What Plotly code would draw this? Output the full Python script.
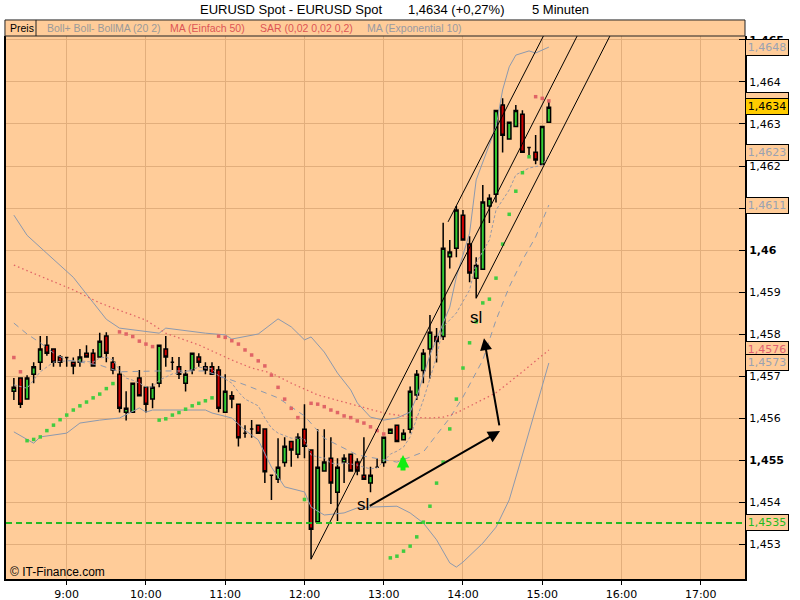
import plotly.graph_objects as go
from datetime import datetime, timedelta

DAY = datetime(2008, 1, 21)


def T(h, m=0.0):
    return DAY + timedelta(hours=h, minutes=m)


START = T(8, 20)
N = 82
times = [START + timedelta(minutes=5 * i) for i in range(N)]

opens = [1.45664, 1.45695, 1.45645, 1.45704, 1.45733, 1.45773, 1.45764, 1.45745, 1.45744, 1.45733,
         1.45733, 1.45754, 1.45754, 1.45745, 1.45795, 1.45733, 1.45704, 1.45614, 1.45614, 1.45695,
         1.45673, 1.45645, 1.45683, 1.45764, 1.45733, 1.45722, 1.45683, 1.45714, 1.45745, 1.45722,
         1.45722, 1.45714, 1.45614, 1.45653, 1.45633, 1.45564, 1.45574, 1.45583, 1.45574, 1.45464,
         1.45454, 1.45494, 1.45544, 1.45514, 1.45573, 1.45524, 1.45353, 1.45474, 1.45504, 1.45423,
         1.45495, 1.45514, 1.45495, 1.45464, 1.45445, 1.45483, 1.45494, 1.45564, 1.45583, 1.45548,
         1.45573, 1.45655, 1.45713, 1.45764, 1.45794, 1.45794, 1.45984, 1.46004, 1.46083, 1.46014,
         1.45933, 1.45954, 1.46105, 1.46133, 1.46345, 1.46264, 1.46294, 1.46323, 1.46244, 1.46233,
         1.46204, 1.46304]
highs = [1.45695, 1.45695, 1.45702, 1.45733, 1.45795, 1.45795, 1.45764, 1.45750, 1.45744, 1.45744,
         1.45764, 1.45773, 1.45764, 1.45803, 1.45804, 1.45745, 1.45724, 1.45664, 1.45683, 1.45714,
         1.45673, 1.45683, 1.45773, 1.45795, 1.45745, 1.45745, 1.45714, 1.45754, 1.45754, 1.45733,
         1.45733, 1.45724, 1.45704, 1.45664, 1.45633, 1.45583, 1.45595, 1.45583, 1.45574, 1.45464,
         1.45552, 1.45554, 1.45544, 1.45564, 1.45633, 1.45524, 1.45573, 1.45573, 1.45554, 1.45504,
         1.45514, 1.45514, 1.45504, 1.45554, 1.45484, 1.45504, 1.45554, 1.45574, 1.45583, 1.45573,
         1.45675, 1.45714, 1.45764, 1.45845, 1.45814, 1.46065, 1.46024, 1.46105, 1.46095, 1.46033,
         1.45983, 1.46155, 1.46133, 1.46333, 1.46361, 1.46304, 1.46345, 1.46333, 1.46244, 1.46274,
         1.46294, 1.46355]
lows = [1.45643, 1.45624, 1.45645, 1.45683, 1.45714, 1.45748, 1.45722, 1.45722, 1.45722, 1.45704,
        1.45722, 1.45745, 1.45724, 1.45745, 1.45733, 1.45704, 1.45613, 1.45594, 1.45614, 1.45653,
        1.45613, 1.45623, 1.45673, 1.45722, 1.45714, 1.45693, 1.45663, 1.45704, 1.45722, 1.45704,
        1.45704, 1.45614, 1.45614, 1.45623, 1.45532, 1.45553, 1.45553, 1.45564, 1.45445, 1.45405,
        1.45445, 1.45484, 1.45484, 1.45504, 1.45504, 1.45264, 1.45353, 1.45474, 1.45395, 1.45355,
        1.45445, 1.45474, 1.45464, 1.45454, 1.45423, 1.45483, 1.45484, 1.45564, 1.45544, 1.45548,
        1.45564, 1.45643, 1.45683, 1.45694, 1.45732, 1.45786, 1.45956, 1.45983, 1.46024, 1.45923,
        1.45885, 1.45954, 1.46064, 1.46113, 1.46232, 1.46264, 1.46294, 1.46233, 1.46224, 1.46204,
        1.46204, 1.46304]
closes = [1.45673, 1.45633, 1.45695, 1.45722, 1.45764, 1.45754, 1.45733, 1.45733, 1.45744, 1.45724,
          1.45745, 1.45745, 1.45724, 1.45783, 1.45754, 1.45714, 1.45623, 1.45623, 1.45683, 1.45653,
          1.45633, 1.45673, 1.45773, 1.45745, 1.45733, 1.45704, 1.45704, 1.45754, 1.45733, 1.45714,
          1.45704, 1.45623, 1.45664, 1.45645, 1.45553, 1.45564, 1.45574, 1.45564, 1.45472, 1.45464,
          1.45483, 1.45533, 1.45524, 1.45554, 1.45533, 1.45335, 1.45483, 1.45495, 1.45445, 1.45483,
          1.45504, 1.45474, 1.45474, 1.45454, 1.45464, 1.45483, 1.45554, 1.45573, 1.45544, 1.45564,
          1.45664, 1.45704, 1.45754, 1.45804, 1.45782, 1.46004, 1.45995, 1.46095, 1.46024, 1.45945,
          1.45963, 1.46114, 1.46123, 1.46332, 1.46273, 1.46304, 1.46332, 1.46233, 1.46244, 1.46214,
          1.46294, 1.46340]

# Bollinger bands (20, 2) read at sample bars
upper_idx = [0, 2, 5, 9, 12, 14, 16, 22, 23, 29, 32, 33, 37, 40, 42, 44, 45, 47, 49, 51,
             52, 54, 56, 58, 60, 61, 63, 66, 67, 69, 70, 73, 74, 75, 76, 78, 79, 81]
upper_val = [1.46083, 1.46035, 1.45992, 1.45935, 1.45875, 1.45835, 1.45814, 1.45802, 1.45814, 1.45802,
             1.45798, 1.45788, 1.45800, 1.45836, 1.45817, 1.45786, 1.45793, 1.45757, 1.45707, 1.45667,
             1.45636, 1.45602, 1.45595, 1.45600, 1.45614, 1.45650, 1.45750, 1.45864, 1.45936, 1.46040,
             1.46167, 1.46293, 1.46381, 1.46436, 1.46464, 1.46474, 1.46469, 1.46483]
lower_idx = [0, 3, 4, 8, 10, 13, 16, 19, 20, 21, 29, 30, 33, 35, 37, 38, 39, 40, 41, 44,
             45, 47, 50, 52, 54, 58, 60, 62, 64, 66, 67, 68, 71, 73, 75, 77, 79, 81]
lower_val = [1.45567, 1.45540, 1.45555, 1.45564, 1.45588, 1.45595, 1.45600, 1.45624, 1.45614, 1.45619,
             1.45619, 1.45612, 1.45600, 1.45571, 1.45548, 1.45517, 1.45483, 1.45460, 1.45436, 1.45424,
             1.45388, 1.45369, 1.45374, 1.45386, 1.45388, 1.45390, 1.45374, 1.45350, 1.45310, 1.45255,
             1.45245, 1.45257, 1.45302, 1.45340, 1.45405, 1.45512, 1.45619, 1.45731]
mid_idx = [0, 2, 4, 6, 8, 13, 16, 22, 29, 33, 35, 40, 44, 47, 52, 58, 62, 64, 66, 68,
           71, 73, 75, 77, 79, 81]
mid_val = [1.45826, 1.45800, 1.45779, 1.45755, 1.45738, 1.45726, 1.45710, 1.45712, 1.45712, 1.45690,
           1.45679, 1.45648, 1.45605, 1.45552, 1.45512, 1.45495, 1.45519, 1.45560, 1.45600, 1.45650,
           1.45738, 1.45833, 1.45912, 1.45976, 1.46031, 1.46107]

# MA (Einfach 50)
sma_idx = [0, 4, 9, 13, 20, 23, 28, 33, 36, 39, 42, 46, 50, 53, 56, 60, 63, 65, 67, 70,
           73, 77, 81]
sma_val = [1.45964, 1.45938, 1.45905, 1.45874, 1.45833, 1.45802, 1.45774, 1.45738, 1.45719, 1.45707,
           1.45683, 1.45655, 1.45638, 1.45624, 1.45612, 1.45602, 1.45600, 1.45602, 1.45612, 1.45636,
           1.45660, 1.45710, 1.45762]

# MA (Exponential 10)
ema_idx = [0, 2, 4, 6, 8, 10, 12, 13, 14, 15, 16, 17, 18, 19, 20, 21, 22, 24, 26, 28,
           30, 31, 32, 33, 34, 35, 37, 38, 39, 40, 42, 43, 44, 45, 46, 47, 48, 49, 50, 52,
           53, 54, 55, 56, 57, 58, 59, 60, 62, 64, 65, 67, 69, 70, 72, 73, 75, 76, 78, 80, 81]
ema_val = [1.45679, 1.45671, 1.45710, 1.45733, 1.45736, 1.45736, 1.45733, 1.45743, 1.45745, 1.45738,
           1.45714, 1.45695, 1.45690, 1.45683, 1.45674, 1.45674, 1.45690, 1.45705, 1.45710, 1.45721,
           1.45717, 1.45700, 1.45693, 1.45683, 1.45662, 1.45645, 1.45629, 1.45600, 1.45576, 1.45564,
           1.45552, 1.45552, 1.45550, 1.45512, 1.45507, 1.45505, 1.45493, 1.45490, 1.45493, 1.45488,
           1.45483, 1.45479, 1.45481, 1.45498, 1.45514, 1.45521, 1.45531, 1.45555, 1.45643, 1.45745,
           1.45817, 1.45850, 1.45905, 1.45969, 1.46024, 1.46095, 1.46143, 1.46179, 1.46195, 1.46202,
           1.46226]

# Parabolic SAR (0,02 0,02 0,2), one value per bar
sar_val = [1.45744, 1.45710,
           1.45546, 1.45549, 1.45555, 1.45570, 1.45583, 1.45596, 1.45607, 1.45619, 1.45629, 1.45638,
           1.45648, 1.45657, 1.45670, 1.45682,
           1.45805, 1.45800, 1.45794, 1.45783, 1.45776, 1.45770,
           1.45595, 1.45598, 1.45607, 1.45613, 1.45621, 1.45629, 1.45635, 1.45641, 1.45648,
           1.45795, 1.45792, 1.45784, 1.45776, 1.45762, 1.45750, 1.45736, 1.45724, 1.45702, 1.45673,
           1.45645, 1.45623, 1.45601,
           1.45406,
           1.45635, 1.45633, 1.45627, 1.45619, 1.45613, 1.45605, 1.45601, 1.45593, 1.45588, 1.45579,
           1.45570, 1.45562,
           1.45267, 1.45271, 1.45283, 1.45295, 1.45317, 1.45352, 1.45390, 1.45445, 1.45495, 1.45574,
           1.45645, 1.45719, 1.45779, 1.45829, 1.45874, 1.45883, 1.45933, 1.46014, 1.46085, 1.46140,
           1.46184, 1.46222,
           1.46365, 1.46361, 1.46355]

# Hand-drawn trend channel: (time, price) end points
chan_upper = [(T(13, 48.7), 1.46067), (T(15, 1.0), 1.46510)]
chan_mid = [(T(12, 5.0), 1.45264), (T(15, 26.5), 1.46510)]
chan_lower = [(T(14, 10.0), 1.45885), (T(15, 51.3), 1.46510)]
support_level = 1.4535

# axis
y_ticks = [1.453, 1.454, 1.455, 1.456, 1.457, 1.458, 1.459, 1.460, 1.461, 1.462, 1.463, 1.464, 1.465]
y_ticktext = ["1,453", "1,454", "<b>1,455</b>", "1,456", "1,457", "1,458", "1,459", "<b>1,46</b>",
              "", "1,462", "1,463", "1,464", "<b>1,465</b>"]
x_hours = [9, 10, 11, 12, 13, 14, 15, 16, 17]

BG = "#FFCC99"
GRID = "#E2AE7C"
BAND = "#8C99AE"
RED_IND = "#E06466"
GREEN_IND = "#40CC40"

fig = go.Figure()

fig.add_trace(go.Scatter(x=[times[i] for i in upper_idx], y=upper_val, mode="lines",
                         line=dict(color=BAND, width=1), hoverinfo="skip"))
fig.add_trace(go.Scatter(x=[times[i] for i in lower_idx], y=lower_val, mode="lines",
                         line=dict(color=BAND, width=1), hoverinfo="skip"))
fig.add_trace(go.Scatter(x=[times[i] for i in mid_idx], y=mid_val, mode="lines",
                         line=dict(color=BAND, width=1, dash="6px,5px"), hoverinfo="skip"))
fig.add_trace(go.Scatter(x=[times[i] for i in ema_idx], y=ema_val, mode="lines",
                         line=dict(color="#9A9AA6", width=1, dash="3px,2px"), hoverinfo="skip"))
fig.add_trace(go.Scatter(x=[times[i] for i in sma_idx], y=sma_val, mode="lines",
                         line=dict(color=RED_IND, width=1.3, dash="1.5px,3px"), hoverinfo="skip"))

sar_colors = [RED_IND if s > c else GREEN_IND for s, c in zip(sar_val, closes)]
fig.add_trace(go.Scatter(x=times, y=sar_val, mode="markers",
                         marker=dict(symbol="square", size=3.5, color=sar_colors, line=dict(width=0)),
                         hoverinfo="skip"))

fig.add_trace(go.Candlestick(x=times, open=opens, high=highs, low=lows, close=closes,
                             increasing=dict(fillcolor="#33CC33", line=dict(color="black", width=1.5)),
                             decreasing=dict(fillcolor="#CC0000", line=dict(color="black", width=1.5)),
                             whiskerwidth=0, hoverinfo="skip"))

for chan in (chan_upper, chan_mid, chan_lower):
    fig.add_trace(go.Scatter(x=[p[0] for p in chan], y=[p[1] for p in chan], mode="lines",
                             line=dict(color="black", width=1), hoverinfo="skip"))

shapes = [
    dict(type="line", xref="paper", x0=0, x1=1, yref="y", y0=support_level, y1=support_level,
         line=dict(color="#22BB22", width=2, dash="6px,4px")),
    dict(type="rect", xref="paper", x0=-0.0014, x1=1.0, yref="paper", y0=1.0, y1=1.0295,
         fillcolor=BG, line=dict(color="#222222", width=1)),
    dict(type="line", xref="paper", x0=0.0406, x1=0.0406, yref="paper", y0=1.0, y1=1.0295,
         line=dict(color="#222222", width=1)),
]

FT = "Liberation Sans"
ann = []
# title
for txt, xp in (("EURUSD Spot - EURUSD Spot", 0.3857), ("1,4634 (+0,27%)", 0.6083), ("5 Minuten", 0.7497)):
    ann.append(dict(text=txt, xref="paper", yref="paper", x=xp, y=1.0479, xanchor="center",
                    yanchor="middle", showarrow=False, font=dict(family=FT, size=13, color="black")))
# header legend
for txt, xp, col in (("Preis", 0.0027, "black"),
                     ("Boll+ Boll- BollMA (20 2)", 0.0528, "#9A9A9A"),
                     ("MA (Einfach 50)", 0.2192, "#DD5555"),
                     ("SAR (0,02 0,02 0,2)", 0.3410, "#DD5555"),
                     ("MA (Exponential 10)", 0.4858, "#9A9AA2")):
    ann.append(dict(text=txt, xref="paper", yref="paper", x=xp, y=1.0147, xanchor="left",
                    yanchor="middle", showarrow=False, font=dict(family=FT, size=10.5, color=col)))
ann.append(dict(text="© IT-Finance.com", xref="paper", yref="paper", x=0.0027, y=0.0129,
                xanchor="left", yanchor="middle", showarrow=False,
                font=dict(family=FT, size=12, color="black")))

# value boxes on the price axis
for txt, val, col, bg in (("1,4648", 1.46483, "#9AA2B2", BG),
                          ("1,4623", 1.46232, "#9AA2B2", BG),
                          ("1,4611", 1.46105, "#9AA2B2", BG),
                          ("1,4576", 1.45762, "#E06070", BG),
                          ("1,4573", 1.45733, "#9AA2B2", BG),
                          ("1,4535", 1.45352, "#22BB22", BG),
                          (" ", 1.46355, "#E06070", BG),
                          ("1,4634", 1.46341, "black", "#FFCC00")):
    ann.append(dict(text=txt, xref="paper", yref="y", x=1.0, y=val, xanchor="left", yanchor="middle",
                    xshift=0, showarrow=False, width=40, height=13, borderpad=1, borderwidth=1,
                    bordercolor="black", bgcolor=bg, align="center",
                    font=dict(family="DejaVu Sans", size=11, color=col)))

# hand annotations
ann.append(dict(text="sl", x=T(12, 44.3), y=1.45395, xref="x", yref="y", showarrow=False,
                font=dict(family=FT, size=17, color="black")))
ann.append(dict(text="sl", x=T(14, 9.9), y=1.45840, xref="x", yref="y", showarrow=False,
                font=dict(family=FT, size=17, color="black")))
ann.append(dict(text="", x=T(14, 28.0), y=1.45569, ax=T(12, 48.3), ay=1.45389, xref="x", yref="y",
                axref="x", ayref="y", showarrow=True, arrowhead=2, arrowsize=1.2, arrowwidth=2,
                arrowcolor="black", standoff=0))
ann.append(dict(text="", x=T(14, 15.9), y=1.45790, ax=T(14, 27.7), ay=1.45579, xref="x", yref="y",
                axref="x", ayref="y", showarrow=True, arrowhead=2, arrowsize=1.2, arrowwidth=2,
                arrowcolor="black", standoff=0))
ann.append(dict(text="", x=T(13, 14.6), y=1.45512, ax=0, ay=17, xref="x", yref="y",
                showarrow=True, arrowhead=2, arrowsize=0.5, arrowwidth=5, arrowcolor="#11EE11",
                standoff=0))

fig.update_layout(
    width=800, height=600,
    margin=dict(l=6, r=55, t=36, b=21),
    paper_bgcolor="white", plot_bgcolor=BG,
    showlegend=False, boxgap=0.25,
    shapes=shapes, annotations=ann,
    xaxis=dict(type="date", range=[T(8, 14.05), T(17, 33.5)], rangeslider=dict(visible=False),
               tickvals=[T(h) for h in x_hours], ticktext=[f"{h}:00" for h in x_hours],
               showgrid=True, gridcolor=GRID, gridwidth=1, zeroline=False, automargin=False,
               showline=True, linecolor="black", linewidth=2,
               ticks="outside", ticklen=4, tickcolor="black",
               tickfont=dict(family="DejaVu Sans", size=11, color="black")),
    yaxis=dict(side="right", range=[1.452167, 1.465095], tickvals=y_ticks, ticktext=y_ticktext,
               showgrid=True, gridcolor=GRID, gridwidth=1, zeroline=False, automargin=False,
               showline=True, mirror=True, linecolor="black", linewidth=2,
               ticks="inside", ticklen=6, tickcolor="black",
               tickfont=dict(family="DejaVu Sans", size=11, color="black")),
)

fig.write_html("out.html", config={"displayModeBar": False},
               post_script="document.body.style.margin='0px';")
